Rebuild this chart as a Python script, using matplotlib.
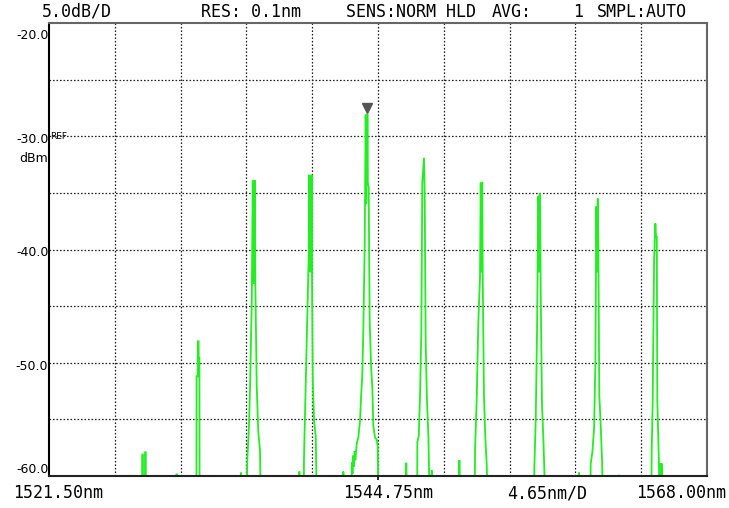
import matplotlib
matplotlib.use("Agg")
import matplotlib.pyplot as plt

# OSA sweep: wavelength (nm) and level (dBm); -62 = floor, below the screen
trace_wl = [
    1521.50,
    1528.08, 1528.09, 1528.13, 1528.14, 1528.29, 1528.30, 1528.33, 1528.34,
    1530.51, 1530.52, 1530.53,
    1531.92, 1531.93, 1532.01, 1532.02, 1532.07, 1532.08, 1532.13, 1532.14,
    1535.06, 1535.07, 1535.08,
    1535.47, 1535.51, 1535.63, 1535.71, 1535.83, 1535.90, 1535.94, 1535.98,
    1536.02, 1536.05, 1536.08, 1536.18, 1536.29, 1536.41, 1536.46,
    1539.17, 1539.19, 1539.21, 1539.50, 1539.52, 1539.64, 1539.78, 1539.85,
    1539.90, 1539.94, 1539.98, 1540.02, 1540.06, 1540.09, 1540.14, 1540.23,
    1540.35, 1540.42,
    1542.29, 1542.30, 1542.31,
    1542.88, 1542.90, 1542.95, 1543.00, 1543.05, 1543.10, 1543.15, 1543.25,
    1543.36, 1543.48, 1543.55, 1543.64, 1543.71, 1543.81, 1543.88, 1543.92,
    1543.96, 1544.02, 1544.03, 1544.09, 1544.16, 1544.26, 1544.35, 1544.42,
    1544.54, 1544.66, 1544.73, 1544.77,
    1546.72, 1546.73, 1546.76, 1546.77,
    1547.52, 1547.53, 1547.63, 1547.72, 1547.81, 1547.88, 1548.00, 1548.05,
    1548.12, 1548.21, 1548.31, 1548.40, 1548.54, 1548.55, 1548.57,
    1550.49, 1550.50, 1550.52,
    1551.58, 1551.61, 1551.73, 1551.84, 1551.96, 1552.01, 1552.05, 1552.08,
    1552.12, 1552.15, 1552.24, 1552.33, 1552.43, 1552.50,
    1555.78, 1555.80, 1555.90, 1555.99, 1556.08, 1556.12, 1556.16, 1556.20,
    1556.25, 1556.34, 1556.43, 1556.50, 1556.57,
    1558.95, 1558.96, 1558.97,
    1559.76, 1559.78, 1559.90, 1560.02, 1560.11, 1560.18, 1560.23, 1560.28,
    1560.32, 1560.39, 1560.49, 1560.58, 1560.65,
    1561.77, 1561.78, 1561.79,
    1564.07, 1564.09, 1564.16, 1564.26, 1564.35, 1564.40, 1564.45, 1564.49,
    1564.61, 1564.62, 1564.70, 1564.74, 1564.80, 1564.84,
    1568.00,
]
trace_dbm = [
    -62,
    -62, -58.1, -58.1, -62, -62, -57.9, -57.9, -62,
    -62, -59.8, -62,
    -62, -51.2, -51.2, -48.1, -48.1, -49.6, -49.6, -62,
    -62, -59.7, -62,
    -62, -58.7, -55.6, -52.1, -44.5, -33.9, -43.0, -34.0,
    -43.0, -33.9, -43.0, -52.1, -56.1, -57.7, -62,
    -62, -59.6, -62, -62, -58.4, -52.1, -44.7, -40.8,
    -33.4, -42.0, -33.6, -42.0, -33.4, -43.3, -51.4, -55.1,
    -56.5, -62,
    -62, -59.6, -62,
    -62, -58.8, -59.8, -58.2, -59.2, -57.8, -58.6, -57.1,
    -56.6, -55.1, -53.1, -51.1, -47.3, -39.6, -28.1, -36.0,
    -28.1, -28.1, -34.1, -34.5, -46.2, -50.3, -52.2, -55.6,
    -56.6, -56.8, -57.4, -62,
    -62, -58.9, -58.9, -62,
    -62, -57.0, -56.5, -52.9, -47.4, -34.1, -31.9, -35.2,
    -48.3, -53.3, -56.5, -62, -62, -59.5, -62,
    -62, -58.6, -62,
    -62, -57.7, -53.0, -46.4, -42.4, -34.1, -42.0, -34.1,
    -34.1, -42.4, -53.0, -56.5, -58.9, -62,
    -62, -59.2, -54.8, -47.1, -35.3, -42.0, -35.1, -35.1,
    -43.9, -53.7, -56.5, -59.3, -62,
    -62, -59.7, -62,
    -62, -58.9, -57.9, -55.8, -50.3, -36.2, -42.0, -35.5,
    -39.8, -52.9, -55.6, -58.5, -62,
    -62, -59.9, -62,
    -62, -57.9, -53.6, -40.9, -37.7, -38.9, -38.9, -53.4,
    -59.2, -62, -58.9, -61.0, -58.9, -62,
    -62,
]

marker_wl = 1543.98
marker_dbm = -27.5

wl_start, wl_center, wl_stop = 1521.50, 1544.75, 1568.00
nm_per_div = 4.65
ref_top, db_per_div = -20.0, 5.0
y_ticks = [-20.0, -30.0, -40.0, -50.0, -60.0]

# header items: text, left edge in pixels
header = [("5.0dB/D", 42), ("RES: 0.1nm", 201), ("SENS:NORM HLD", 346),
          ("AVG:", 492), ("1", 573), ("SMPL:AUTO", 597)]

W, H = 729, 508
fig = plt.figure(figsize=(W / 100, H / 100), dpi=100)
ax = fig.add_axes([49 / W, 1 - 476 / H, 658 / W, 453 / H])

ax.plot(trace_wl, trace_dbm, color="#22ee22", lw=1.3, solid_joinstyle="miter")
ax.plot([marker_wl], [marker_dbm], marker="v", ms=7, color="#555555", ls="none")

ax.set_xlim(wl_start, wl_stop)
ax.set_ylim(ref_top - 8 * db_per_div, ref_top)

# dotted division grid
for i in range(1, 10):
    ax.axvline(wl_start + i * nm_per_div, color="#222222", lw=0.9,
               ls=(0, (1.3, 1.5)), zorder=0)
for i in range(1, 8):
    ax.axhline(ref_top - i * db_per_div, color="#222222", lw=0.9,
               ls=(0, (1.3, 1.5)), zorder=0)

ax.set_xticks([wl_center])
ax.set_xticklabels([])
ax.tick_params(axis="x", direction="out", length=3, width=1.2, color="black")
ax.set_yticks([])
ax.spines["left"].set_color("black")
ax.spines["bottom"].set_color("#222222")
ax.spines["top"].set_color("#666666")
ax.spines["right"].set_color("#666666")
for s in ax.spines.values():
    s.set_linewidth(1.5)

mono = dict(family="DejaVu Sans Mono", fontsize=12, color="black")
small = dict(family="DejaVu Sans", fontsize=9, color="black")

for txt, px in header:
    fig.text(px / W, 1 - 12 / H, txt, ha="left", va="center", **mono)

ytr = ax.get_yaxis_transform()
for v in y_ticks:
    if v == y_ticks[0]:
        va, dy = "top", -0.5
    elif v == y_ticks[-1]:
        va, dy = "bottom", 0
    else:
        va, dy = "center", -0.3
    ax.text(-0.001, v + dy, f"{v:.1f}", transform=ytr, ha="right", va=va, **small)
ax.text(0.002, -30.0, "REF", transform=ytr, ha="left", va="center",
        family="DejaVu Sans", fontsize=6.5)
ax.text(-0.001, -32.0, "dBm", transform=ytr, ha="right", va="center", **small)

fig.text(13 / W, 1 - 493 / H, f"{wl_start:.2f}nm", ha="left", va="center", **mono)
fig.text(343 / W, 1 - 493 / H, f"{wl_center:.2f}nm", ha="left", va="center", **mono)
fig.text(507 / W, 1 - 493 / H, f"{nm_per_div:.2f}nm/D", ha="left", va="center", **mono)
fig.text(726 / W, 1 - 493 / H, f"{wl_stop:.2f}nm", ha="right", va="center", **mono)

fig.savefig("out.png", dpi=100, facecolor="white")
